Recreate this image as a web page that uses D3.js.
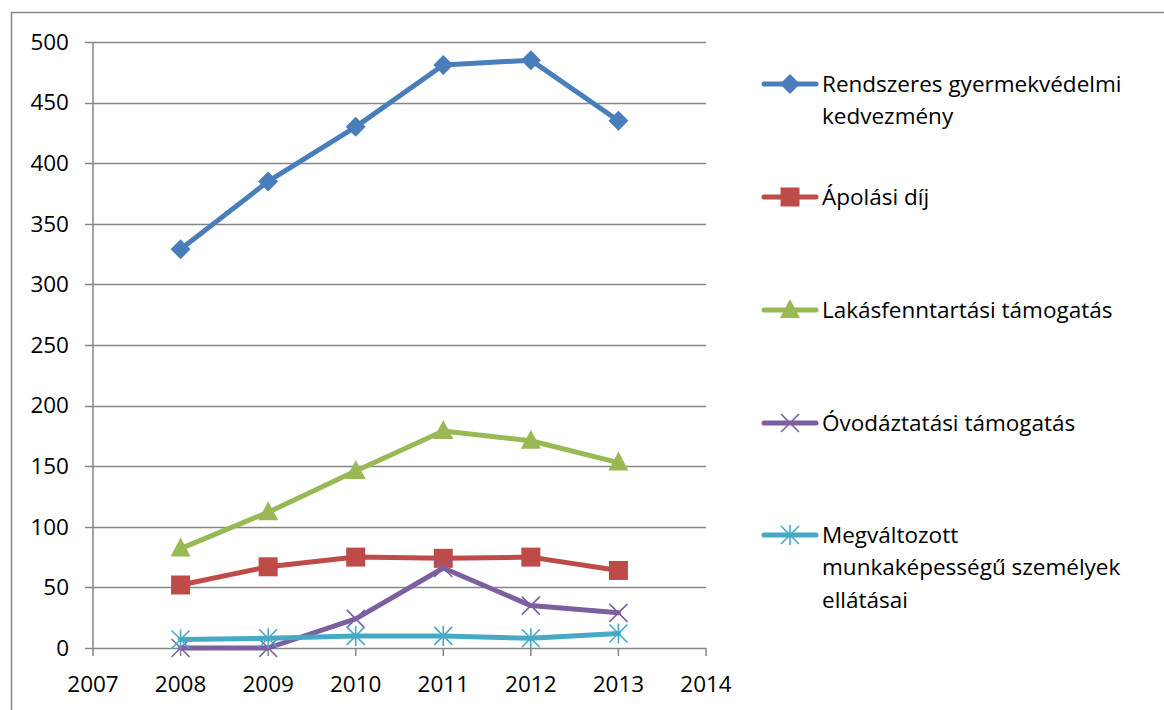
<!DOCTYPE html>
<html>
<head>
<meta charset="utf-8">
<script src="https://cdn.jsdelivr.net/npm/d3@7"></script>
<style>
body { margin: 0; background: #fff; }
svg { display: block; }
text { font-family: "Open Sans", Lato, sans-serif; fill: #000; }
</style>
</head>
<body>
<svg id="chart" width="1164" height="710"></svg>
<script>
const years = [2008, 2009, 2010, 2011, 2012, 2013];
const xTicks = [2007, 2008, 2009, 2010, 2011, 2012, 2013, 2014];
const yTicks = [0, 50, 100, 150, 200, 250, 300, 350, 400, 450, 500];

const rendszeres = [329, 385, 430, 481, 485, 435];
const apolasi = [52, 67, 75, 74, 75, 64];
const lakas = [82, 112, 146, 179, 171, 153];
const ovoda = [0, 0, 24, 66, 35, 29];
const megvaltozott = [7, 8, 10, 10, 8, 12];

const seriesNames = [
  ["Rendszeres gyermekvédelmi", "kedvezmény"],
  ["Ápolási díj"],
  ["Lakásfenntartási támogatás"],
  ["Óvodáztatási támogatás"],
  ["Megváltozott", "munkaképességű személyek", "ellátásai"]
];
const seriesValues = [rendszeres, apolasi, lakas, ovoda, megvaltozott];
const colors = ["#4A7EBB", "#BE4B48", "#98B954", "#7D5FA0", "#46AAC5"];
const markers = ["diamond", "square", "triangle", "x", "star"];

const svg = d3.select("#chart");
const fs = 22.5;

// outer border
svg.append("rect").attr("x", 11.5).attr("y", 12.5).attr("width", 1200).attr("height", 720)
  .attr("fill", "none").attr("stroke", "#868686").attr("stroke-width", 1.5);

const x = d3.scaleLinear().domain([2007, 2014]).range([93, 706]);
const y = d3.scaleLinear().domain([0, 500]).range([648, 42]);

// gridlines
svg.append("g").selectAll("line").data(yTicks).join("line")
  .attr("x1", 85).attr("x2", x(2014))
  .attr("y1", d => Math.round(y(d)) + 0.5).attr("y2", d => Math.round(y(d)) + 0.5)
  .attr("stroke", "#868686").attr("stroke-width", 1.5);

// y axis line
svg.append("line").attr("x1", x(2007)).attr("x2", x(2007)).attr("y1", y(500)).attr("y2", y(0))
  .attr("stroke", "#868686").attr("stroke-width", 1.5);

// x ticks
svg.append("g").selectAll("line").data(xTicks).join("line")
  .attr("x1", d => x(d)).attr("x2", d => x(d))
  .attr("y1", y(0)).attr("y2", y(0) + 8)
  .attr("stroke", "#868686").attr("stroke-width", 1.5);

// y labels
svg.append("g").selectAll("text").data(yTicks).join("text")
  .attr("x", 69).attr("y", d => y(d)).attr("dy", "0.35em")
  .attr("text-anchor", "end").attr("font-size", fs).text(d => d);

// x labels
svg.append("g").selectAll("text").data(xTicks).join("text")
  .attr("x", d => x(d)).attr("y", 684).attr("dy", "0.35em")
  .attr("text-anchor", "middle").attr("font-size", fs).text(d => d);

function drawMarker(g, type, cx, cy, color) {
  if (type === "diamond") {
    g.append("path").attr("d", `M${cx},${cy-10}L${cx+10},${cy}L${cx},${cy+10}L${cx-10},${cy}Z`).attr("fill", color);
  } else if (type === "square") {
    g.append("rect").attr("x", cx - 9.5).attr("y", cy - 9.5).attr("width", 19).attr("height", 19).attr("fill", color);
  } else if (type === "triangle") {
    g.append("path").attr("d", `M${cx},${cy-11}L${cx+10},${cy+8}L${cx-10},${cy+8}Z`).attr("fill", color);
  } else if (type === "x") {
    g.append("path").attr("d", `M${cx-9},${cy-9}L${cx+9},${cy+9}M${cx-9},${cy+9}L${cx+9},${cy-9}`)
      .attr("stroke", color).attr("stroke-width", 1.6).attr("fill", "none");
  } else if (type === "star") {
    g.append("path").attr("d", `M${cx-9},${cy-9}L${cx+9},${cy+9}M${cx-9},${cy+9}L${cx+9},${cy-9}M${cx},${cy-10}L${cx},${cy+10}`)
      .attr("stroke", color).attr("stroke-width", 1.6).attr("fill", "none");
  }
}

seriesValues.forEach((vals, i) => {
  const g = svg.append("g");
  const line = d3.line().x((d, j) => x(years[j])).y(d => y(d));
  g.append("path").datum(vals).attr("d", line).attr("fill", "none")
    .attr("stroke", colors[i]).attr("stroke-width", 5).attr("stroke-linejoin", "round").attr("stroke-linecap", "round");
  vals.forEach((v, j) => drawMarker(g, markers[i], x(years[j]), y(v), colors[i]));
});

// legend
const legendY = [84, 197, 310, 423, 535];
seriesNames.forEach((names, i) => {
  const g = svg.append("g");
  const ly = legendY[i];
  g.append("line").attr("x1", 764).attr("x2", 816).attr("y1", ly).attr("y2", ly)
    .attr("stroke", colors[i]).attr("stroke-width", 5).attr("stroke-linecap", "round");
  drawMarker(g, markers[i], 790, ly, colors[i]);
  names.forEach((t, k) => {
    g.append("text").attr("x", 822).attr("y", ly + k * 32.5).attr("dy", "0.35em")
      .attr("font-size", fs).text(t);
  });
});
</script>
</body>
</html>
